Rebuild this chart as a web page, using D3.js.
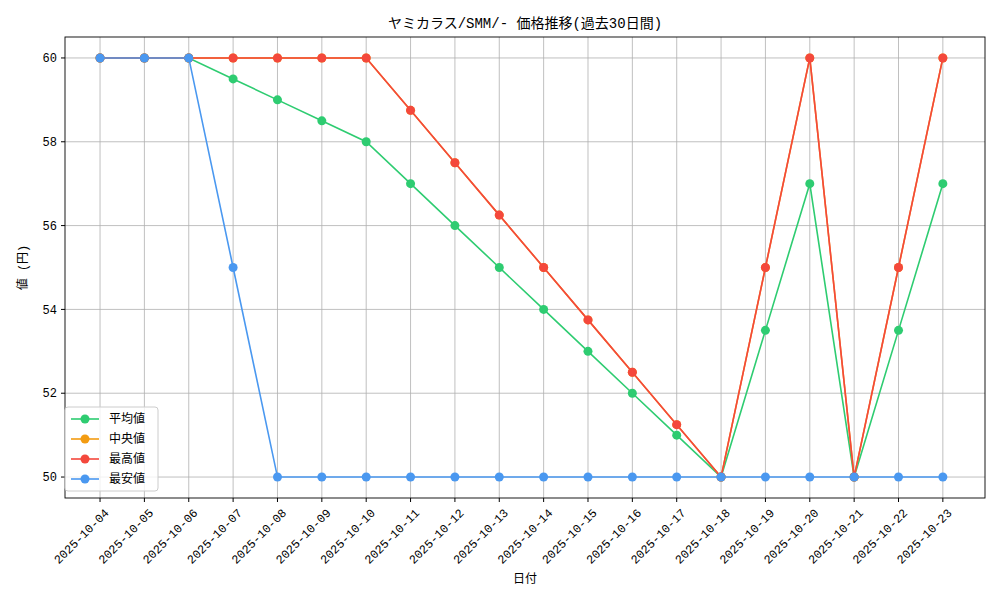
<!DOCTYPE html>
<html><head><meta charset="utf-8">
<script src="https://cdn.jsdelivr.net/npm/d3@7"></script>
<style>body{margin:0;background:#fff}text{font-family:"Liberation Mono","Noto Sans CJK JP",monospace}</style>
</head><body><svg id="c" width="1000" height="600"></svg>
<script>
const dates = ['2025-10-04','2025-10-05','2025-10-06','2025-10-07','2025-10-08','2025-10-09','2025-10-10','2025-10-11','2025-10-12','2025-10-13','2025-10-14','2025-10-15','2025-10-16','2025-10-17','2025-10-18','2025-10-19','2025-10-20','2025-10-21','2025-10-22','2025-10-23'];
const avgVals = [60,60,60,59.5,59,58.5,58,57,56,55,54,53,52,51,50,53.5,57,50,53.5,57];
const medVals = [60,60,60,60,60,60,60,58.75,57.5,56.25,55,53.75,52.5,51.25,50,55,60,50,55,60];
const maxVals = [60,60,60,60,60,60,60,58.75,57.5,56.25,55,53.75,52.5,51.25,50,55,60,50,55,60];
const minVals = [60,60,60,55,50,50,50,50,50,50,50,50,50,50,50,50,50,50,50,50];
const yTicks = [50,52,54,56,58,60];
const series = [
  {name:'平均値', values:avgVals, color:'#2ecc71'},
  {name:'中央値', values:medVals, color:'#f39c12'},
  {name:'最高値', values:maxVals, color:'#f4483c'},
  {name:'最安値', values:minVals, color:'#4a98f0'}
];

const L=65,R=985,T=37,B=498;
const svg=d3.select('#c');
const x=d3.scaleLinear().domain([-0.79,19.95]).range([L,R]);
const y=d3.scaleLinear().domain([49.5,60.5]).range([B,T]);

const g=svg.append('g');
g.selectAll('.vg').data(dates).enter().append('line')
  .attr('x1',(d,i)=>x(i)).attr('x2',(d,i)=>x(i)).attr('y1',T).attr('y2',B)
  .attr('stroke','#b0b0b0').attr('stroke-width',0.8);
g.selectAll('.hg').data(yTicks).enter().append('line')
  .attr('x1',L).attr('x2',R).attr('y1',d=>y(d)).attr('y2',d=>y(d))
  .attr('stroke','#b0b0b0').attr('stroke-width',0.8);

const line=d3.line().x((d,i)=>x(i)).y(d=>y(d));
series.forEach(s=>{
  g.append('path').datum(s.values).attr('d',line).attr('fill','none')
    .attr('stroke',s.color).attr('stroke-width',1.6);
  g.selectAll(null).data(s.values).enter().append('circle')
    .attr('cx',(d,i)=>x(i)).attr('cy',d=>y(d)).attr('r',4.5).attr('fill',s.color);
});

svg.append('rect').attr('x',L).attr('y',T).attr('width',R-L).attr('height',B-T)
  .attr('fill','none').attr('stroke','#000').attr('stroke-width',0.9);

dates.forEach((d,i)=>{
  svg.append('line').attr('x1',x(i)).attr('x2',x(i)).attr('y1',B).attr('y2',B+4).attr('stroke','#000');
  svg.append('text').attr('transform',`translate(${x(i)+4},${B+10}) rotate(-45)`)
    .attr('text-anchor','end').attr('dominant-baseline','hanging').attr('font-size',12).text(d);
});
yTicks.forEach(v=>{
  svg.append('line').attr('x1',L-4).attr('x2',L).attr('y1',y(v)).attr('y2',y(v)).attr('stroke','#000');
  svg.append('text').attr('x',L-8).attr('y',y(v)).attr('dy','0.35em').attr('text-anchor','end')
    .attr('font-size',12).text(v);
});

svg.append('text').attr('x',(L+R)/2).attr('y',28).attr('text-anchor','middle').attr('font-size',14)
  .text('ヤミカラス/SMM/- 価格推移(過去30日間)');
svg.append('text').attr('x',(L+R)/2).attr('y',583).attr('text-anchor','middle').attr('font-size',12).text('日付');
svg.append('text').attr('transform',`translate(27,${(T+B)/2}) rotate(-90)`).attr('text-anchor','middle')
  .attr('font-size',12).text('値 (円)');

const lg=svg.append('g').attr('transform','translate(65,407)');
lg.append('rect').attr('x',0).attr('y',0).attr('width',93).attr('height',84).attr('rx',3)
  .attr('fill','#fff').attr('fill-opacity',0.8).attr('stroke','#ccc');
series.forEach((s,i)=>{
  const yy=12+i*20;
  lg.append('line').attr('x1',6).attr('x2',34).attr('y1',yy).attr('y2',yy).attr('stroke',s.color).attr('stroke-width',1.6);
  lg.append('circle').attr('cx',20).attr('cy',yy).attr('r',4.5).attr('fill',s.color);
  lg.append('text').attr('x',44).attr('y',yy).attr('dy','0.35em').attr('font-size',12).text(s.name);
});
</script></body></html>
